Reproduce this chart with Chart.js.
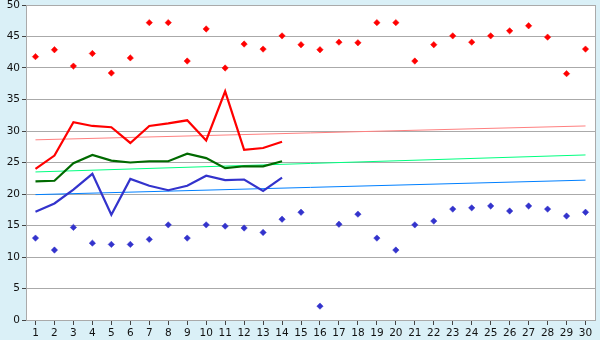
<!DOCTYPE html>
<html>
<head>
<meta charset="utf-8">
<script src="https://cdn.jsdelivr.net/npm/chart.js@4/dist/chart.umd.min.js"></script>
<style>
html,body{margin:0;padding:0;background:#daf0f7;}
#wrap{width:600px;height:340px;position:relative;}
</style>
</head>
<body>
<div id="wrap"><canvas id="c" width="600" height="340"></canvas></div>
<script>
const days = ["1","2","3","4","5","6","7","8","9","10","11","12","13","14","15","16","17","18","19","20","21","22","23","24","25","26","27","28","29","30"];
const yTicks = [0,5,10,15,20,25,30,35,40,45,50];
const maxTemps = [41.8,42.9,40.3,42.3,39.2,41.6,47.2,47.2,41.1,46.2,40.0,43.8,43.0,45.1,43.7,42.9,44.1,44.0,47.2,47.2,41.1,43.7,45.1,44.1,45.1,45.9,46.7,44.9,39.1,43.0];
const minTemps = [13.0,11.1,14.7,12.2,12.0,12.0,12.8,15.1,13.0,15.1,14.9,14.6,13.9,16.0,17.1,2.2,15.2,16.8,13.0,11.1,15.1,15.7,17.6,17.8,18.1,17.3,18.1,17.6,16.5,17.1];
const highLine = [24.0,26.1,31.4,30.8,30.6,28.1,30.8,31.2,31.7,28.5,36.3,27.0,27.3,28.3];
const meanLine = [22.0,22.1,24.9,26.2,25.3,25.0,25.2,25.2,26.4,25.7,24.1,24.4,24.4,25.2];
const lowLine = [17.2,18.5,20.7,23.2,16.7,22.4,21.3,20.6,21.3,22.9,22.2,22.3,20.5,22.6];
const normalHigh = [28.6,null,null,null,null,null,null,null,null,null,null,null,null,null,null,null,null,null,null,null,null,null,null,null,null,null,null,null,null,30.8];
const normalMean = [23.5,null,null,null,null,null,null,null,null,null,null,null,null,null,null,null,null,null,null,null,null,null,null,null,null,null,null,null,null,26.2];
const normalLow = [19.9,null,null,null,null,null,null,null,null,null,null,null,null,null,null,null,null,null,null,null,null,null,null,null,null,null,null,null,null,22.2];

const frame = {
  id:'frame',
  beforeDraw(chart){
    const {ctx, chartArea:a} = chart;
    ctx.save();
    ctx.fillStyle = '#ffffff';
    ctx.fillRect(a.left, a.top, a.right-a.left, a.bottom-a.top);
    ctx.restore();
  },
  afterDraw(chart){
    const {ctx, chartArea:a} = chart;
    ctx.save();
    ctx.strokeStyle = '#aaaaaa';
    ctx.lineWidth = 1;
    ctx.beginPath();
    ctx.moveTo(Math.round(a.right)+0.5, Math.round(a.top));
    ctx.lineTo(Math.round(a.right)+0.5, Math.round(a.bottom));
    ctx.stroke();
    ctx.restore();
  }
};

const lineDs = (data, color, w) => ({type:'line', data, borderColor:color, borderWidth:w, pointRadius:0, fill:false, tension:0, spanGaps:true});
const dotDs = (data, color) => ({type:'line', data, showLine:false, pointStyle:'rectRot', pointRadius:3.2, pointBackgroundColor:color, pointBorderColor:color, pointBorderWidth:0.5});

new Chart(document.getElementById('c'), {
  type:'line',
  data:{
    labels: days,
    datasets:[
      lineDs(highLine,'#ff0000',2.2),
      lineDs(meanLine,'#006a00',2.2),
      lineDs(lowLine,'#3333cc',2.2),
      dotDs(maxTemps,'#ff0000'),
      dotDs(minTemps,'#3333cc'),
      lineDs(normalHigh,'#ff8080',1),
      lineDs(normalMean,'#00ff80',1),
      lineDs(normalLow,'#0080ff',1)
    ]
  },
  options:{
    responsive:false,
    animation:false,
    events:[],
    layout:{padding:{top:5,right:5,left:0,bottom:0}},
    plugins:{legend:{display:false},tooltip:{enabled:false}},
    scales:{
      x:{
        offset:true,
        grid:{drawOnChartArea:false, drawTicks:true, tickLength:5, color:'#444444', offset:false},
        border:{color:'#aaaaaa'},
        ticks:{padding:2, color:'#111111', font:{family:'DejaVu Sans', size:10.5}, autoSkip:false, maxRotation:0},
        afterFit(s){ s.height = 20; s.paddingLeft = 0; s.paddingRight = 0; }
      },
      y:{
        min:0, max:50,
        afterBuildTicks(s){ s.ticks = yTicks.map(v=>({value:v})); },
        grid:{color:'#aaaaaa', tickLength:4, drawTicks:true, tickColor:'#444444'},
        border:{color:'#aaaaaa'},
        ticks:{padding:2, color:'#111111', font:{family:'DejaVu Sans', size:10.5}},
        afterFit(s){ s.width = 26; s.paddingTop = 0; s.paddingBottom = 0; }
      }
    }
  },
  plugins:[frame]
});
</script>
</body>
</html>
